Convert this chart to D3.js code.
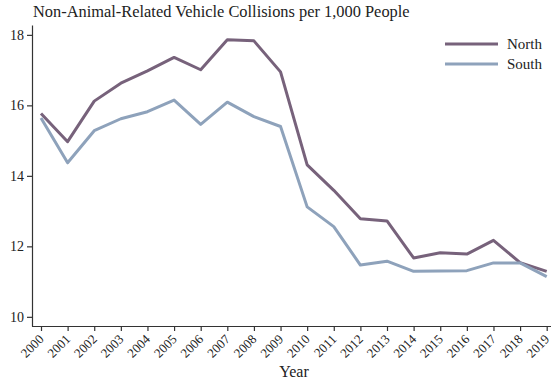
<!DOCTYPE html>
<html>
<head>
<meta charset="utf-8">
<script src="https://cdn.jsdelivr.net/npm/d3@7"></script>
<style>
  html, body { margin: 0; padding: 0; background: #fff; }
  svg text { font-family: "Liberation Serif", "DejaVu Serif", serif; fill: #222; }
</style>
</head>
<body>
<svg id="chart" width="552" height="381"></svg>
<script>
// Collisions per 1,000 people, by year
const years = [2000, 2001, 2002, 2003, 2004, 2005, 2006, 2007, 2008, 2009,
               2010, 2011, 2012, 2013, 2014, 2015, 2016, 2017, 2018, 2019];
const north = [15.77, 14.97, 16.12, 16.63, 16.98, 17.36, 17.01, 17.86, 17.83, 16.95,
               14.31, 13.59, 12.78, 12.72, 11.67, 11.82, 11.78, 12.17, 11.54, 11.29];
const south = [15.64, 14.37, 15.28, 15.62, 15.82, 16.15, 15.46, 16.09, 15.68, 15.40,
               13.12, 12.56, 11.47, 11.58, 11.29, 11.30, 11.31, 11.53, 11.53, 11.14];
const yTicks = [10, 12, 14, 16, 18];
const seriesNames = ["North", "South"];
const seriesColors = ["#77627b", "#8ea2bb"];

const svg = d3.select("#chart");
const plotLeft = 32, plotBottom = 326, plotTop = 25;
const fontFamily = "Liberation Serif, DejaVu Serif, serif";

const x = d3.scaleLinear().domain([2000, 2019]).range([41, 546.7]);
const y = d3.scaleLinear().domain([9.74, 18.28]).range([plotBottom, plotTop]);

// Title
svg.append("text")
  .attr("x", 33).attr("y", 17)
  .style("font-size", "16.4px")
  .text("Non-Animal-Related Vehicle Collisions per 1,000 People");

// Y axis
const yAxis = svg.append("g")
  .attr("transform", `translate(${plotLeft},0)`)
  .call(d3.axisLeft(y).tickValues(yTicks).tickSize(5).tickPadding(3).tickSizeOuter(0));
yAxis.select(".domain").attr("stroke", "#333").attr("stroke-width", 1.2);
yAxis.selectAll(".tick line").attr("stroke", "#333").attr("stroke-width", 1.2);
yAxis.selectAll(".tick text")
  .style("font-size", "14px").style("font-family", fontFamily).attr("fill", "#222");

// X axis
const xAxis = svg.append("g")
  .attr("transform", `translate(0,${plotBottom})`)
  .call(d3.axisBottom(x).tickValues(years).tickFormat(d3.format("d")).tickSize(5).tickSizeOuter(0));
xAxis.select(".domain").attr("d", `M${plotLeft},0.5H551`).attr("stroke", "#333").attr("stroke-width", 1.2);
xAxis.selectAll(".tick line").attr("stroke", "#333").attr("stroke-width", 1.2);
xAxis.selectAll(".tick text")
  .style("font-size", "13px").style("font-family", fontFamily).attr("fill", "#222")
  .attr("text-anchor", "end")
  .attr("x", 0).attr("y", 0).attr("dx", "0").attr("dy", "0")
  .attr("transform", "translate(3,14) rotate(-45)");

// Axis title
svg.append("text")
  .attr("x", 294).attr("y", 377)
  .attr("text-anchor", "middle")
  .style("font-size", "16px")
  .text("Year");

// Lines
const line = d3.line().x((d, i) => x(years[i])).y(d => y(d));
[north, south].forEach((vals, k) => {
  svg.append("path")
    .datum(vals)
    .attr("fill", "none")
    .attr("stroke", seriesColors[k])
    .attr("stroke-width", 3)
    .attr("stroke-linejoin", "round")
    .attr("d", line);
});

// Legend
const legend = svg.append("g");
seriesNames.forEach((name, k) => {
  const ly = 44 + k * 20;
  legend.append("line")
    .attr("x1", 445).attr("x2", 498).attr("y1", ly).attr("y2", ly)
    .attr("stroke", seriesColors[k]).attr("stroke-width", 3);
  legend.append("text")
    .attr("x", 507).attr("y", ly + 4.5)
    .style("font-size", "15px")
    .text(name);
});
</script>
</body>
</html>
